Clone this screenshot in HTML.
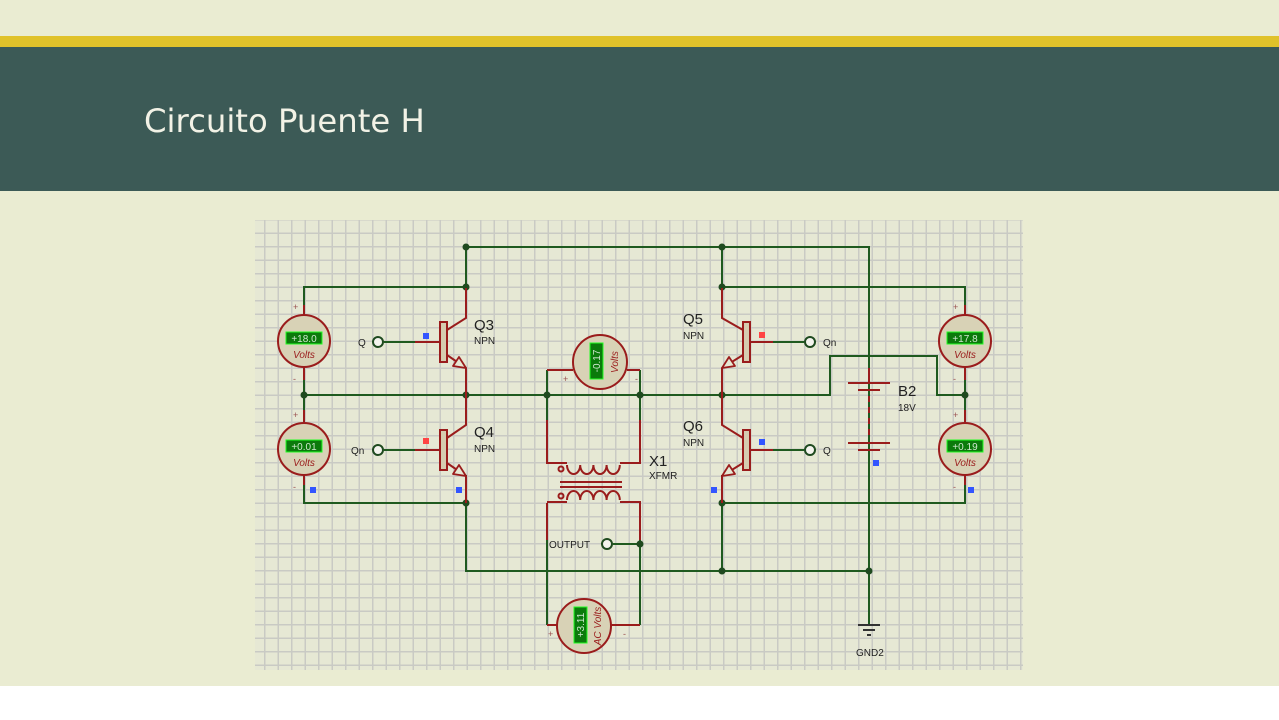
<!DOCTYPE html>
<html><head><meta charset="utf-8"><style>
body{margin:0;width:1279px;height:720px;overflow:hidden;background:#fff;font-family:"Liberation Sans",sans-serif}
</style></head><body>
<svg width="1279" height="720" xmlns="http://www.w3.org/2000/svg" style="position:absolute;left:0;top:0">
<defs>
<pattern id="g" width="13.5" height="13.5" patternUnits="userSpaceOnUse" x="264" y="219">
<rect width="13.5" height="13.5" fill="#e6e8d4"/>
<path d="M0.75 0V13.5M0 0.75H13.5" stroke="#c9cac4" stroke-width="1.5"/>
</pattern>
</defs>
<rect x="0" y="0" width="1279" height="686" fill="#eaecd2"/>
<rect x="0" y="36" width="1279" height="11" fill="#e0c22a"/>
<rect x="0" y="47" width="1279" height="144" fill="#3c5a56"/>
<text x="144" y="132" font-family="'DejaVu Sans',sans-serif" font-size="32.3" fill="#f2f2e6">Circuito Puente H</text>
<rect x="255" y="220" width="768" height="450" fill="url(#g)"/>

<g fill="none" stroke="#1f5a1f" stroke-width="2">
<path d="M466 288V247H869V625"/>
<path d="M304 315V287H466V318"/>
<path d="M722 247V318M722 287H965V315"/>
<path d="M304 367V422M304 395H640"/>
<path d="M466 370V425M466 475V571H869"/>
<path d="M304 475V503H466"/>
<path d="M722 370V425M722 475V571"/>
<path d="M640 395H830V356H937V395H965V367M965 395V422"/>
<path d="M722 503H965V475"/>
<path d="M547 370V463M640 370V463"/>
<path d="M547 503V625M640 503V625"/>
<path d="M384 342H415M384 450H415M745 342H804M745 450H804"/>
<path d="M613 544H640"/>
<path d="M869 448V625"/>
</g>
<g fill="#1f4a1f">
<circle cx="466" cy="247" r="3.5"/><circle cx="722" cy="247" r="3.5"/>
<circle cx="466" cy="287" r="3.5"/><circle cx="722" cy="287" r="3.5"/>
<circle cx="304" cy="395" r="3.5"/><circle cx="466" cy="395" r="3.5"/><circle cx="547" cy="395" r="3.5"/><circle cx="640" cy="395" r="3.5"/><circle cx="722" cy="395" r="3.5"/><circle cx="965" cy="395" r="3.5"/>
<circle cx="466" cy="503" r="3.5"/><circle cx="722" cy="503" r="3.5"/>
<circle cx="722" cy="571" r="3.5"/><circle cx="869" cy="571" r="3.5"/>
<circle cx="640" cy="544" r="3.5"/>
</g>

<g fill="none" stroke="#9a1c1c" stroke-width="2">
<path d="M415 342H441M466 288V318L447 330M447 355L466 368V395"/>
<path d="M415 450H441M466 395V425L447 438M447 463L466 476V503"/>
<path d="M773 342H750M722 288V318L743 330M743 355L722 368V395"/>
<path d="M773 450H750M722 395V425L743 438M743 463L722 476V503"/>
<path d="M304 305V315M304 367V380M304 410V422M304 475V485"/>
<path d="M965 305V315M965 367V380M965 410V422M965 475V485"/>
<path d="M547 370H573M627 370H640"/>
<path d="M547 625H557M611 625H640"/>
<path d="M547 420V463H567M620 463H640V420"/>
<path d="M567 465a6.6 9 0 0 0 13.2 0a6.6 9 0 0 0 13.2 0a6.6 9 0 0 0 13.2 0a6.6 9 0 0 0 13.2 0"/>
<path d="M560 482H622M560 487H622"/>
<path d="M567 500a6.6 9 0 0 1 13.2 0a6.6 9 0 0 1 13.2 0a6.6 9 0 0 1 13.2 0a6.6 9 0 0 1 13.2 0"/>
<path d="M547 503V540M547 502H567M620 502H640V540"/>
<circle cx="561" cy="469" r="2.5"/><circle cx="561" cy="496" r="2.5"/>
<path d="M869 368V383M848 383H890M858 390H880"/>
<path d="M869 396V436" stroke-dasharray="6 5"/>
<path d="M848 443H890M858 450H880"/>
</g>
<g fill="#d6ccb0" stroke="#9a1c1c" stroke-width="2">
<rect x="440" y="322" width="7" height="40"/>
<rect x="440" y="430" width="7" height="40"/>
<rect x="743" y="322" width="7" height="40"/>
<rect x="743" y="430" width="7" height="40"/>
</g>
<g fill="#e6e8d4" stroke="#9a1c1c" stroke-width="1.8" stroke-linejoin="round">
<path d="M466 368L453 366L459 357Z"/>
<path d="M466 476L453 474L459 465Z"/>
<path d="M722 368L735 366L729 357Z"/>
<path d="M722 476L735 474L729 465Z"/>
</g>
<g fill="#f4f4ee" stroke="#1f4a1f" stroke-width="2">
<circle cx="378" cy="342" r="5"/><circle cx="378" cy="450" r="5"/>
<circle cx="810" cy="342" r="5"/><circle cx="810" cy="450" r="5"/>
<circle cx="607" cy="544" r="5"/>
</g>
<g stroke="#333" stroke-width="2"><path d="M858 625H880M863 630H875M867 635H871"/></g>

<g stroke="#9a1c1c" stroke-width="2" fill="#d8d2b6">
<circle cx="304" cy="341" r="26"/><circle cx="304" cy="449" r="26"/>
<circle cx="965" cy="341" r="26"/><circle cx="965" cy="449" r="26"/>
<circle cx="600" cy="362" r="27"/><circle cx="584" cy="626" r="27"/>
</g>
<g fill="#0b7a0b" stroke="#2f2" stroke-width="1">
<rect x="286" y="332" width="36" height="12"/><rect x="286" y="440" width="36" height="12"/>
<rect x="947" y="332" width="36" height="12"/><rect x="947" y="440" width="36" height="12"/>
<rect x="590" y="343" width="13" height="36"/><rect x="574" y="607" width="13" height="36"/>
</g>
<g font-size="10" fill="#cfe8cf" text-anchor="middle">
<text x="304" y="342">+18.0</text><text x="304" y="450">+0.01</text>
<text x="965" y="342">+17.8</text><text x="965" y="450">+0.19</text>
<text transform="translate(600,361) rotate(-90)">-0.17</text>
<text transform="translate(584,625) rotate(-90)">+3.11</text>
</g>
<g font-size="10" fill="#9a1c1c" font-style="italic" text-anchor="middle">
<text x="304" y="358">Volts</text><text x="304" y="466">Volts</text>
<text x="965" y="358">Volts</text><text x="965" y="466">Volts</text>
<text transform="translate(618,362) rotate(-90)">Volts</text>
<text transform="translate(601,626) rotate(-90)">AC Volts</text>
</g>
<g font-size="9" fill="#9a5050">
<text x="293" y="310">+</text><text x="293" y="382">-</text><text x="293" y="418">+</text><text x="293" y="490">-</text>
<text x="953" y="310">+</text><text x="953" y="382">-</text><text x="953" y="418">+</text><text x="953" y="490">-</text>
<text x="563" y="382">+</text><text x="635" y="382">-</text>
<text x="548" y="637">+</text><text x="623" y="637">-</text>
</g>
<g fill="#222">
<text x="474" y="330" font-size="15">Q3</text><text x="474" y="344" font-size="10">NPN</text>
<text x="474" y="437" font-size="15">Q4</text><text x="474" y="452" font-size="10">NPN</text>
<text x="683" y="324" font-size="15">Q5</text><text x="683" y="339" font-size="10">NPN</text>
<text x="683" y="431" font-size="15">Q6</text><text x="683" y="446" font-size="10">NPN</text>
<text x="649" y="466" font-size="15">X1</text><text x="649" y="479" font-size="10">XFMR</text>
<text x="898" y="396" font-size="15">B2</text><text x="898" y="411" font-size="10">18V</text>
<text x="358" y="346" font-size="10">Q</text><text x="351" y="454" font-size="10">Qn</text>
<text x="823" y="346" font-size="10">Qn</text><text x="823" y="454" font-size="10">Q</text>
<text x="549" y="548" font-size="10">OUTPUT</text>
<text x="856" y="656" font-size="10">GND2</text>
</g>
<g>
<rect x="423" y="333" width="6" height="6" fill="#3355ff"/>
<rect x="423" y="438" width="6" height="6" fill="#ff4444"/>
<rect x="456" y="487" width="6" height="6" fill="#3355ff"/>
<rect x="310" y="487" width="6" height="6" fill="#3355ff"/>
<rect x="759" y="332" width="6" height="6" fill="#ff4444"/>
<rect x="759" y="439" width="6" height="6" fill="#3355ff"/>
<rect x="711" y="487" width="6" height="6" fill="#3355ff"/>
<rect x="873" y="460" width="6" height="6" fill="#3355ff"/>
<rect x="968" y="487" width="6" height="6" fill="#3355ff"/>
</g>
</svg>
</body></html>
